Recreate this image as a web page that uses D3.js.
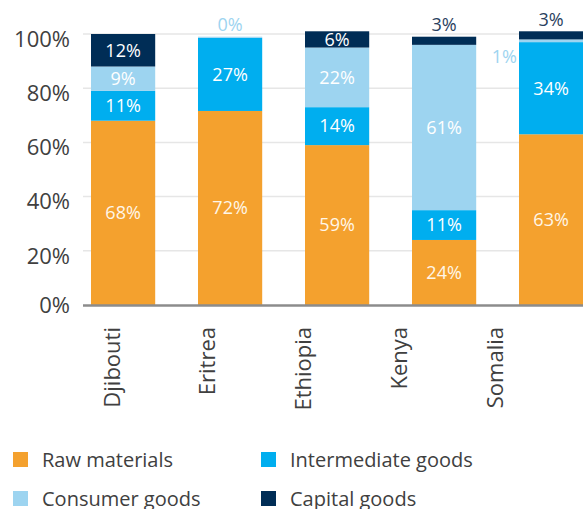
<!DOCTYPE html>
<html><head><meta charset="utf-8">
<script src="https://cdn.jsdelivr.net/npm/d3@7"></script>
<style>body{margin:0;background:#fff;overflow:hidden}svg{display:block}text{font-family:"Open Sans","Noto Sans",sans-serif}</style>
</head><body><svg id="c" width="583" height="509"></svg>
<script>
const categories = ["Djibouti","Eritrea","Ethiopia","Kenya","Somalia"];
const rawMaterials = [68, 71.6, 59, 24, 63];
const intermediateGoods = [11, 27, 14, 11, 34];
const consumerGoods = [9, 0.4, 22, 61, 1];
const capitalGoods = [12, 0, 6, 3, 3];
const seriesNames = ["Raw materials","Intermediate goods","Consumer goods","Capital goods"];
const yTicks = [0, 20, 40, 60, 80, 100];

const colors = ["#F4A12E","#00AEEF","#9DD4F0","#002D56"];
const outsideColors = ["#F4A12E","#00AEEF","#9DD4F0","#2B3F5E"];
const seriesValues = [rawMaterials, intermediateGoods, consumerGoods, capitalGoods];

const svg = d3.select("#c");
const x = d3.scaleBand().domain(categories).range([69.6, 604.6]).paddingInner(0.4).paddingOuter(0.2);
const xLab = d3.scalePoint().domain(categories).range([112, 495]);
const y = d3.scaleLinear().domain([0, 100]).range([305, 34]);

// gridlines
svg.append("g").selectAll("line").data(yTicks.filter(t => t > 0)).join("line")
  .attr("x1", 83).attr("x2", 583).attr("y1", d => y(d)).attr("y2", d => y(d))
  .attr("stroke", "#e6e6e6").attr("stroke-width", 1.5);

// y tick labels
svg.append("g").selectAll("text").data(yTicks).join("text")
  .attr("x", 70).attr("y", d => y(d) + (d === 0 ? 0 : 5)).attr("dy", "0.35em")
  .attr("text-anchor", "end").attr("font-size", 22).attr("fill", "#404040")
  .text(d => d + "%");

// stack
const table = categories.map((c, i) => {
  const o = {cat: c};
  seriesNames.forEach((s, k) => o[s] = seriesValues[k][i]);
  return o;
});
const stacked = d3.stack().keys(seriesNames)(table);

const g = svg.append("g");
stacked.forEach((layer, k) => {
  g.append("g").attr("fill", colors[k]).selectAll("rect").data(layer).join("rect")
    .attr("x", d => x(d.data.cat)).attr("width", x.bandwidth())
    .attr("y", d => y(d[1])).attr("height", d => Math.max(0, y(d[0]) - y(d[1])));
});

// axis line
svg.append("line").attr("x1", 83).attr("x2", 583).attr("y1", 305.5).attr("y2", 305.5)
  .attr("stroke", "#8c8c8c").attr("stroke-width", 2.5);

// labels
const lg = svg.append("g").attr("font-size", 18);
stacked.forEach((layer, k) => {
  layer.forEach((d, i) => {
    const v = seriesValues[k][i];
    const cat = d.data.cat;
    const cx = x(cat) + x.bandwidth() / 2;
    const isTop = seriesValues.slice(k + 1).every(s => s[i] === 0);
    if (v === 0 && !(k === 2 && isTop && seriesValues[0][i] > 0 && !seriesValues[3][i])) {
      if (!(k === 2 && isTop)) return;
    }
    if (v >= 5) {
      lg.append("text").attr("x", cx).attr("y", y((d[0] + d[1]) / 2)).attr("dy", "0.35em")
        .attr("text-anchor", "middle").attr("fill", k === 0 ? "#FFF6E8" : "#ffffff").text(Math.round(v) + "%");
    } else if (isTop || k === 3) {
      lg.append("text").attr("x", cx).attr("y", y(d[1]) - 12).attr("dy", "0.35em")
        .attr("text-anchor", "middle").attr("fill", outsideColors[k]).text(Math.round(v) + "%");
    } else {
      lg.append("text").attr("x", x(cat) - 2).attr("y", y((d[0] + d[1]) / 2) + 16).attr("dy", "0.35em")
        .attr("text-anchor", "end").attr("fill", outsideColors[k]).text(Math.round(v) + "%");
    }
  });
});

// category labels
svg.append("g").selectAll("text").data(categories).join("text")
  .attr("transform", d => `translate(${xLab(d)},327) rotate(-90)`)
  .attr("dy", "0.35em").attr("text-anchor", "end").attr("font-size", 22).attr("fill", "#404040")
  .text(d => d);

// legend
const legPos = [[13, 467], [261, 467], [13, 506], [261, 506]];
const leg = svg.append("g").selectAll("g").data(seriesNames).join("g")
  .attr("transform", (d, i) => `translate(${legPos[i][0]},${legPos[i][1]})`);
leg.append("rect").attr("x", 0).attr("y", -15).attr("width", 15).attr("height", 15)
  .attr("fill", (d, i) => colors[i]);
leg.append("text").attr("x", 29).attr("y", 0).attr("font-size", 20).attr("fill", "#404040").text(d => d);
</script></body></html>
